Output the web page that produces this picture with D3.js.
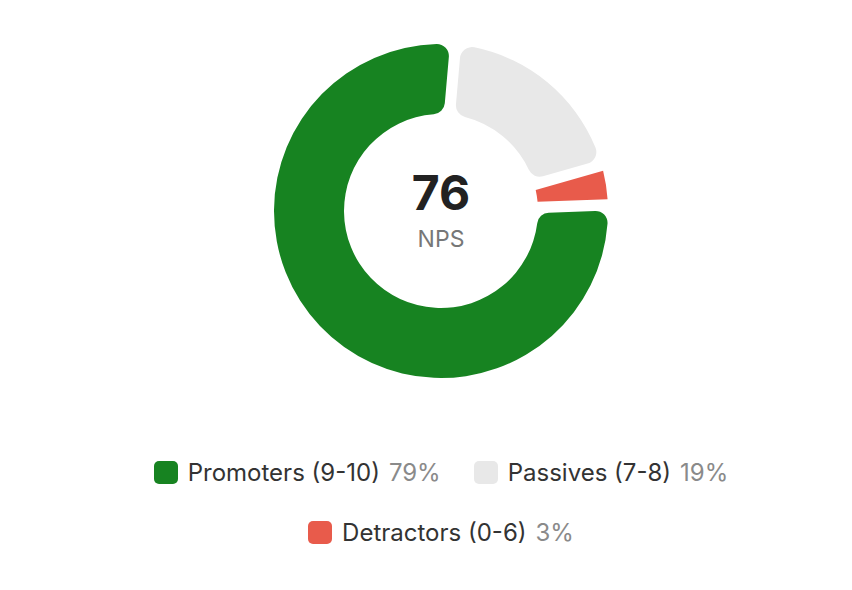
<!DOCTYPE html>
<html>
<head>
<meta charset="utf-8">
<script src="https://cdn.jsdelivr.net/npm/d3@7"></script>
<style>
  body { margin: 0; background: #fff; font-family: Inter, "Noto Sans", sans-serif; }
  #chart { position: relative; width: 852px; height: 590px; }
  #legend {
    position: absolute; left: 91px; top: 460px; width: 700px;
    display: flex; flex-wrap: wrap; justify-content: center;
    column-gap: 33px; row-gap: 36px;
  }
  .item { display: flex; align-items: center; font-size: 24px; color: #333; height: 24px; }
  .swatch { width: 24px; height: 23px; border-radius: 5px; margin-right: 10px; }
  .pct { color: #8a8a8a; margin-left: 9px; }
</style>
</head>
<body>
<div id="chart"></div>
<script>
// data
var categories = ["Promoters (9-10)", "Passives (7-8)", "Detractors (0-6)"];
var shares = [79, 19, 3];
var colors = ["#178321", "#e8e8e8", "#e85b4b"];
var score = 76;
var scoreLabel = "NPS";

var width = 852, height = 590;
var cx = 441, cy = 211;
var outer = 167, inner = 97;

var svg = d3.select("#chart")
  .append("svg")
    .attr("width", width)
    .attr("height", height)
    .style("position", "absolute")
    .style("left", 0)
    .style("top", 0);

var g = svg.append("g")
  .attr("transform", "translate(" + cx + "," + cy + ")");

// Passives start just right of the top, then detractors, then promoters round to the top
var order = [1, 2, 0];
var rows = order.map(function(i) {
  return {label: categories[i], value: shares[i], color: colors[i]};
});

var start = 5 * Math.PI / 180;
var pie = d3.pie()
  .sort(null)
  .value(function(d) { return d.value; })
  .startAngle(start)
  .endAngle(start + 2 * Math.PI)
  .padAngle(0.058);

// small slices keep square corners
var arc = d3.arc()
  .innerRadius(inner)
  .outerRadius(outer)
  .cornerRadius(function(d) { return d.data.value < 5 ? 0 : 12; });

g.selectAll("path")
  .data(pie(rows))
  .enter().append("path")
    .attr("d", arc)
    .attr("fill", function(d) { return d.data.color; });

// Centre label
g.append("text")
  .attr("text-anchor", "middle")
  .attr("y", -1)
  .style("font-size", "48px")
  .style("font-weight", 700)
  .style("fill", "#222")
  .text(score);

g.append("text")
  .attr("text-anchor", "middle")
  .attr("y", 36)
  .style("font-size", "23px")
  .style("fill", "#777")
  .text(scoreLabel);

// Legend
var legend = d3.select("#chart").append("div").attr("id", "legend");
var items = legend.selectAll(".item")
  .data(categories)
  .enter().append("div")
    .attr("class", "item");

items.append("div")
  .attr("class", "swatch")
  .style("background", function(d, i) { return colors[i]; });
items.append("span").text(function(d) { return d; });
items.append("span")
  .attr("class", "pct")
  .text(function(d, i) { return shares[i] + "%"; });
</script>
</body>
</html>
